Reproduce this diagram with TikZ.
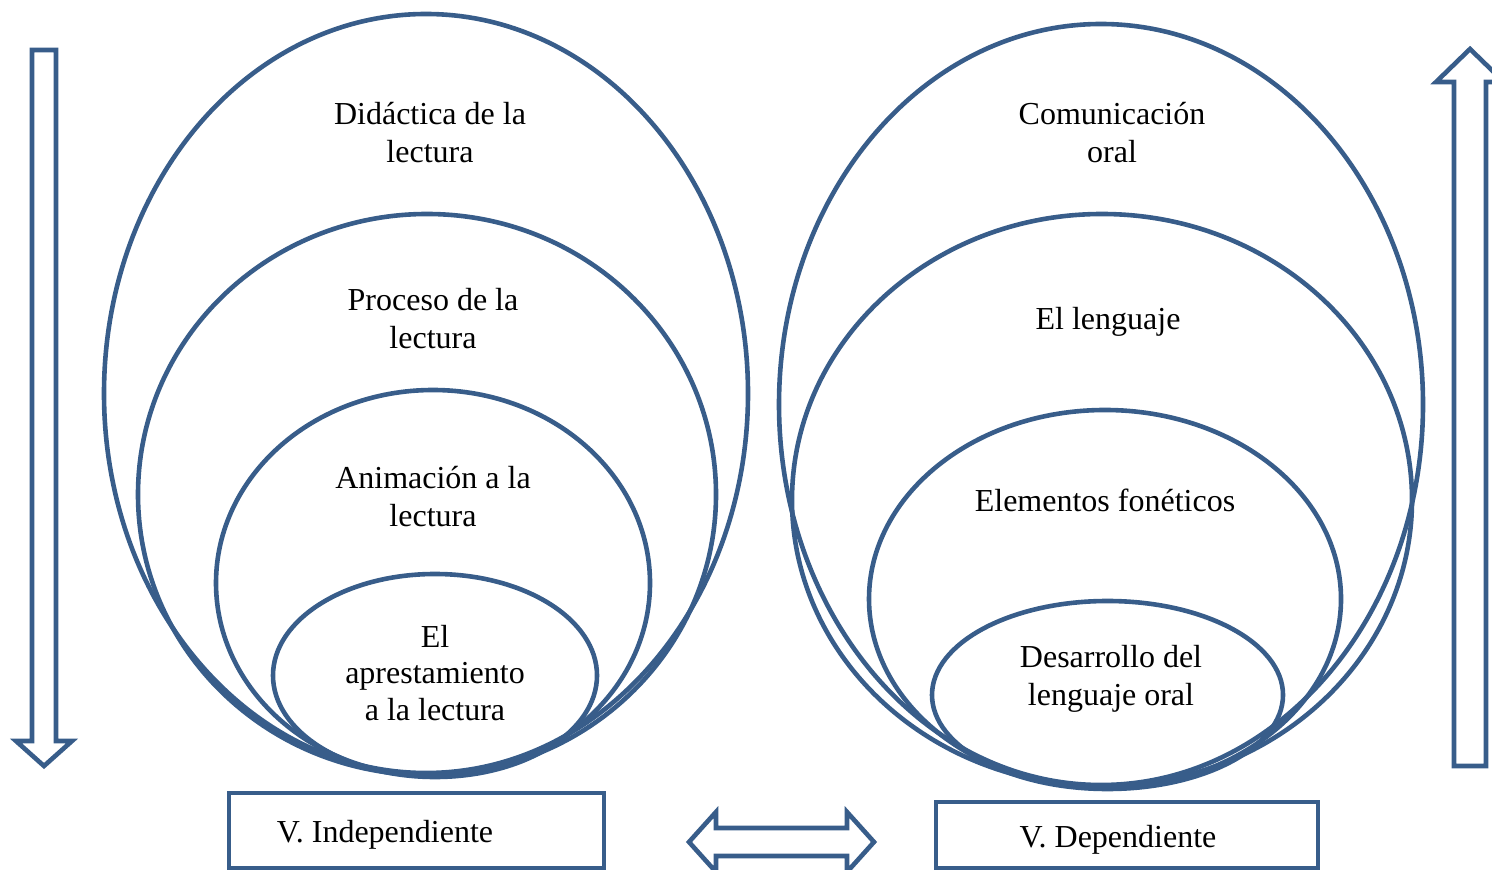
\documentclass[tikz,border=0pt]{standalone}
\usepackage{fontspec}
\setmainfont{Liberation Serif}
\usepackage{tikz}
\usetikzlibrary{shapes.geometric}
\definecolor{borde}{RGB}{56,93,138}

\begin{document}
\begin{tikzpicture}[x=0.5pt,y=-0.5pt,
        ring/.style={ellipse, draw=borde, line width=2.3pt, inner sep=0pt},
        caja/.style={rectangle, draw=borde, line width=2.3pt, inner sep=0pt},
        flecha/.style={draw=borde, line width=2.3pt, line join=miter},
        txt/.style={align=center, font=\fontsize{16}{19}\selectfont}]
        \useasboundingbox (0,0) rectangle (1492,870);
        % Variable independiente
        \node[ring, minimum width=322pt, minimum height=379.5pt] (lDid) at (426,393.5) {};
        \node[ring, minimum width=289pt, minimum height=280.5pt] (lPro) at (427,494.5) {};
        \node[ring, minimum width=217pt, minimum height=193pt] (lAni) at (433,583) {};
        \node[ring, minimum width=162pt, minimum height=101.5pt] (lApr) at (435,675.5) {};
        \node[txt] (tDid) at (430,133) {Didáctica de la\\lectura};
        \node[txt] (tPro) at (433,319) {Proceso de la\\lectura};
        \node[txt] (tAni) at (433,497) {Animación a la\\lectura};
        \node[txt, font=\fontsize{16}{18.3}\selectfont] (tApr) at (435,673) {El\\aprestamiento\\a la lectura};
        % Variable dependiente
        \node[ring, minimum width=322pt, minimum height=380.5pt] (rCom) at (1101,404.5) {};
        \node[ring, minimum width=310pt, minimum height=286pt] (rLen) at (1102,500) {};
        \node[ring, minimum width=236pt, minimum height=189pt] (rFon) at (1105,599) {};
        \node[ring, minimum width=175.5pt, minimum height=94pt] (rDes) at (1107.5,695) {};
        \node[txt] (tCom) at (1112,133) {Comunicación\\oral};
        \node[txt] (tLen) at (1108,322) {El lenguaje};
        \node[txt] (tFon) at (1105,500) {Elementos fonéticos};
        \node[txt] (tDes) at (1111,679) {Desarrollo del\\lenguaje oral};
        %
        % Cajas
        \node[caja, minimum width=187.5pt, minimum height=37.5pt] (bInd) at (416.5,830.5) {};
        \node[txt] (tInd) at (385,835) {V. Independiente};
        \node[caja, minimum width=191pt, minimum height=33pt] (bDep) at (1127,835) {};
        \node[txt] (tDep) at (1118,840) {V. Dependiente};
        %
        % Flechas
        \draw[flecha] (32,50) -- (56,50) -- (56,741) -- (72,741) -- (44,766)
              -- (16,741) -- (32,741) -- cycle;
        \draw[flecha] (1454,766) -- (1454,82) -- (1436,82) -- (1470,49)
              -- (1504,82) -- (1486,82) -- (1486,766) -- cycle;
        \draw[flecha] (689,842) -- (716,812) -- (716,828) -- (847,828) -- (847,812)
              -- (874,842) -- (847,872) -- (847,856) -- (716,856) -- (716,872) -- cycle;
\end{tikzpicture}
\end{document}
